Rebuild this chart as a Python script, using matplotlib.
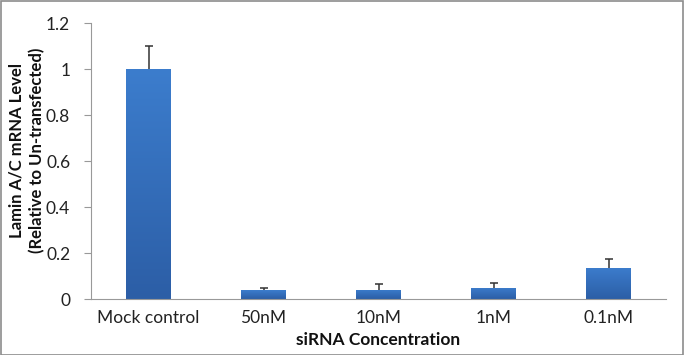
import matplotlib
matplotlib.use("Agg")
import matplotlib.pyplot as plt
import numpy as np
from matplotlib.patches import Rectangle
from matplotlib.colors import LinearSegmentedColormap

categories = ["Mock control", "50nM", "10nM", "1nM", "0.1nM"]
values = [1.0, 0.039, 0.040, 0.049, 0.135]
errors = [0.10, 0.009, 0.025, 0.021, 0.039]
yticks = [0, 0.2, 0.4, 0.6, 0.8, 1.0, 1.2]
ytick_labels = ["0", "0.2", "0.4", "0.6", "0.8", "1", "1.2"]

plt.rcParams['font.family'] = ['Lato', 'DejaVu Sans']

W, H = 684, 355
fig = plt.figure(figsize=(W/100, H/100), dpi=100)
ax = fig.add_axes([91/W, 1-299/H, (666-91)/W, (299-23)/H])

x = np.arange(len(categories))
bars = ax.bar(x, values, width=0.39, color="#3670bf", zorder=2)
eb = ax.errorbar(x, values, yerr=[np.zeros(len(values)), errors], fmt='none',
                 ecolor="#333333", elinewidth=1.1, capsize=3, capthick=1.1, zorder=3)
caps = eb[1]
if len(caps) >= 2:
    caps[0].set_visible(False)

grad = np.linspace(0, 1, 256).reshape(-1, 1)
cmap = LinearSegmentedColormap.from_list("g", ["#2c5ea6", "#3c7dcd"])
for b in bars:
    x0, y0 = b.get_x(), b.get_y()
    w, h = b.get_width(), b.get_height()
    im = ax.imshow(grad, extent=[x0, x0+w, y0, y0+h], origin='lower',
                   cmap=cmap, aspect='auto', zorder=2.5)
    im.set_clip_path(b)

ax.set_xlim(-0.5, 4.5)
ax.set_ylim(0, 1.2)
ax.set_yticks(yticks)
ax.set_yticklabels(ytick_labels)
ax.set_xticks(x)
ax.set_xticklabels(categories)
ax.tick_params(axis='x', length=0, pad=8, labelsize=12.5, colors="#222222")
ax.tick_params(axis='y', length=5, width=0.8, color="#999999", pad=10, labelsize=12.5, labelcolor="#222222")
for s in ["top", "right"]:
    ax.spines[s].set_visible(False)
for s in ["left", "bottom"]:
    ax.spines[s].set_color("#999999")
    ax.spines[s].set_linewidth(0.8)

fig.text(378/W, 1-340/H, "siRNA Concentration", ha="center", va="center",
         fontsize=12.5, fontweight="bold", color="#111111")
fig.text(17/W, 1-150/H, "Lamin A/C mRNA Level", ha="center", va="center",
         rotation=90, fontsize=12, fontweight="bold", color="#111111")
fig.text(37/W, 1-150/H, "(Relative to Un-transfected)", ha="center", va="center",
         rotation=90, fontsize=12, fontweight="bold", color="#111111")

border = Rectangle((0.5/W, 0.5/H), 1-1.5/W, 1-1.5/H, transform=fig.transFigure,
                   fill=False, edgecolor="#8c8c8c", linewidth=1.2)
fig.patches.append(border)

fig.savefig("out.png", dpi=100)
